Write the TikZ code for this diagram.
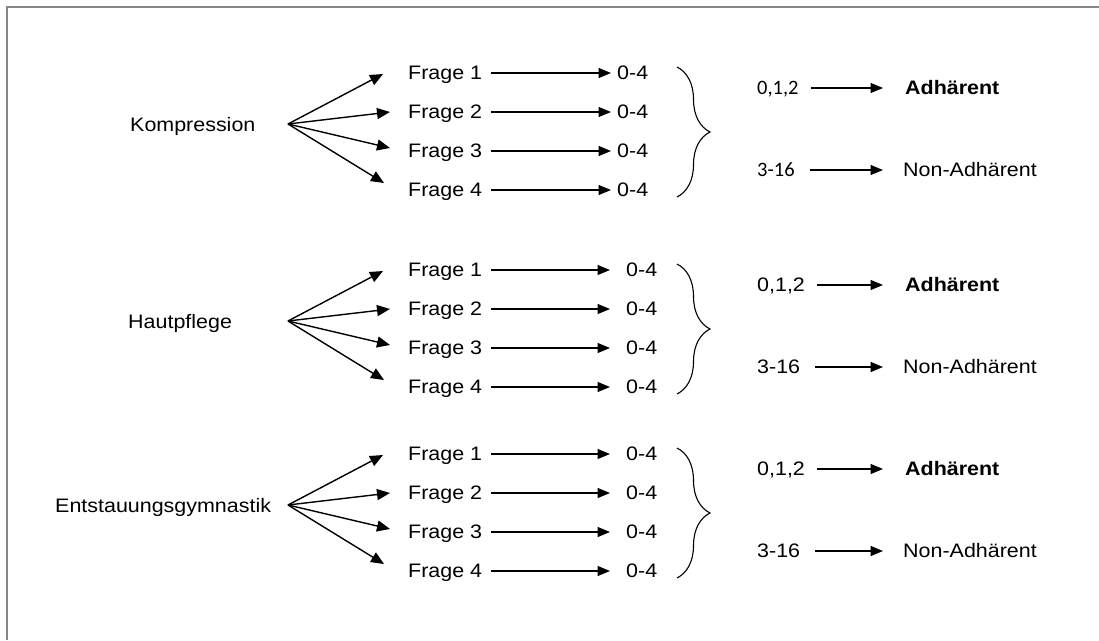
\documentclass[tikz,border=0pt]{standalone}
\usepackage{fontspec}
\setmainfont[FakeStretch=1.1]{Liberation Sans}
\newfontfamily\calibfont{Carlito}
\usetikzlibrary{arrows.meta,calc,decorations.pathreplacing}

\tikzset{
  lbl/.style={inner sep=0pt, anchor=west, font=\fontsize{19.5}{22}\selectfont,
              text height=13.9pt, text depth=0pt},
  lblc/.style={lbl, font=\fontsize{20.5}{22}\calibfont, text height=12.9pt},
  fan/.style={line width=1.4pt, -{Triangle[length=13pt,width=11pt]}},
  link/.style={line width=1.25pt, -{Triangle[length=12.5pt,width=10pt]}},
  brc/.style={line width=1.1pt, decorate, decoration={brace, amplitude=33pt}},
  frame/.style={line width=2pt, draw=black!47}
}

% #1 prefix, #2 y of the first question, #3 category, #4 x of category,
% #5 x of the scores, #6 gap before a score, #7 style of the sum labels
\newcommand\questiongroup[7]{%
  \node[lbl] (#1cat) at (#4,{#2+52}) {#3};
  \coordinate (#1o) at (288,{#2+51});
  \foreach \i/\dx/\dy in {1/-25/1,2/-18/0,3/-18/-3,4/-24/-7}{
    \node[lbl] (#1q\i) at (408,{#2+39*(\i-1)}) {Frage \i};
    \node[lbl] (#1s\i) at (#5,{#2+39*(\i-1)}) {0-4};
    \draw[fan] (#1o) -- ($(#1q\i.west)+(\dx,\dy)$);
    \draw[link] ($(#1q\i.east)+(9,0)$) -- ($(#1s\i.west)+(-#6,0)$);
  }
  \coordinate (#1bt) at (677,{#2-6});
  \coordinate (#1bb) at (677,{#2+124});
  \draw[brc] (#1bt) -- (#1bb);
  \node[#7] (#1lo) at (757,{#2+15}) {0,1,2};
  \node[lbl] (#1adh) at (905,{#2+15}) {\bfseries Adhärent};
  \node[#7] (#1hi) at (757,{#2+97}) {3-16};
  \node[lbl] (#1non) at (903,{#2+97}) {Non-Adhärent};
  \draw[link] ($(#1lo.east)+(12,0)$) -- ($(#1adh.west)+(-22,0)$);
  \draw[link] ($(#1hi.east)+(15,0)$) -- ($(#1non.west)+(-20,0)$);
}

\begin{document}
\begin{tikzpicture}[x=1pt,y=-1pt]
  \useasboundingbox (0,0) rectangle (1099,640);
  \draw[frame] (7,640) -- (7,7) -- (1099,7);
  \questiongroup{a}{73}{Kompression}{130}{617}{6}{lblc}
  \questiongroup{b}{270}{Hautpflege}{128}{626}{16}{lbl}
  \questiongroup{c}{454}{Entstauungsgymnastik}{55}{626}{16}{lbl}
\end{tikzpicture}
\end{document}
